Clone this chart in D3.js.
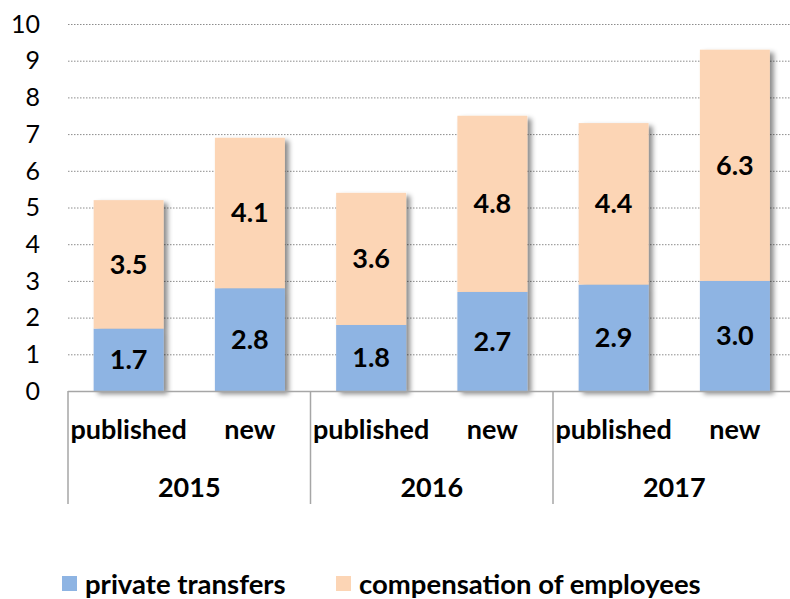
<!DOCTYPE html>
<html><head><meta charset="utf-8">
<script src="https://cdn.jsdelivr.net/npm/d3@7"></script>
<style>body{margin:0;background:#fff;} svg{display:block;font-family:Lato, "Open Sans", sans-serif;}</style>
</head><body>
<svg id="c" width="790" height="599"></svg>
<script>
const years = ["2015","2016","2017"];
const versions = ["published","new"];
const privateTransfers = [1.7, 2.8, 1.8, 2.7, 2.9, 3.0];
const compensation = [3.5, 4.1, 3.6, 4.8, 4.4, 6.3];
const yTicks = [0,1,2,3,4,5,6,7,8,9,10];
const seriesNames = ["private transfers","compensation of employees"];
const colors = ["#8EB4E3","#FCD5B5"];

const svg = d3.select("#c");
const left = 68, right = 795.5, y0 = 391, yTop = 24;
const y = d3.scaleLinear().domain([0,10]).range([y0, yTop]);
const xOuter = d3.scaleBand().domain(years).range([left, right]).padding(0);
const xInner = d3.scaleBand().domain(versions).range([0, xOuter.bandwidth()]).paddingInner(0.423).paddingOuter(0.2115);

const defs = svg.append("defs");
const f = defs.append("filter").attr("id","sh").attr("x","-20%").attr("y","-20%").attr("width","150%").attr("height","150%");
f.append("feDropShadow").attr("dx",4).attr("dy",3).attr("stdDeviation",2.5).attr("flood-color","#000").attr("flood-opacity",0.45);

// gridlines
svg.append("g").selectAll("line").data(yTicks.filter(d=>d>0)).join("line")
  .attr("x1", left).attr("x2", 790).attr("y1", d=>y(d)+0.5).attr("y2", d=>y(d)+0.5)
  .attr("stroke","#8c8c8c").attr("stroke-width",1).attr("stroke-dasharray","1.5,1.5");

// y tick labels
svg.append("g").selectAll("text").data(yTicks).join("text")
  .attr("x", 40).attr("y", d=>y(d)).attr("dy","0.35em").attr("text-anchor","end")
  .attr("font-size", 25).attr("fill","#000").text(d=>d);

// data rows
const rows = [];
years.forEach((yr,i)=>versions.forEach((v,j)=>{
  const k = i*2+j;
  rows.push({year:yr, version:v, a:privateTransfers[k], b:compensation[k]});
}));

const bars = svg.append("g").selectAll("g").data(rows).join("g")
  .attr("filter","url(#sh)")
  .attr("transform", d=>`translate(${xOuter(d.year)+xInner(d.version)},0)`);
bars.append("rect").attr("x",0).attr("width", xInner.bandwidth())
  .attr("y", d=>y(d.a)).attr("height", d=>y(0)-y(d.a)).attr("fill", colors[0]);
bars.append("rect").attr("x",0).attr("width", xInner.bandwidth())
  .attr("y", d=>y(d.a+d.b)).attr("height", d=>y(d.a)-y(d.a+d.b)).attr("fill", colors[1]);

// data labels
const lab = svg.append("g").selectAll("g").data(rows).join("g")
  .attr("transform", d=>`translate(${xOuter(d.year)+xInner(d.version)+xInner.bandwidth()/2},0)`);
lab.append("text").attr("y", d=>y(d.a/2)).attr("dy","0.35em").attr("text-anchor","middle")
  .attr("font-size",27).attr("font-weight","bold").text(d=>d.a.toFixed(1));
lab.append("text").attr("y", d=>y(d.a+d.b/2)).attr("dy","0.35em").attr("text-anchor","middle")
  .attr("font-size",27).attr("font-weight","bold").text(d=>d.b.toFixed(1));

// axis line
svg.append("line").attr("x1",left).attr("x2",790).attr("y1",y0+0.5).attr("y2",y0+0.5)
  .attr("stroke","#a6a6a6").attr("stroke-width",1.5);
// separators
svg.append("g").selectAll("line").data(years).join("line")
  .attr("x1", d=>xOuter(d)).attr("x2", d=>xOuter(d)).attr("y1", y0).attr("y2", 504)
  .attr("stroke","#a6a6a6").attr("stroke-width",1.5);

// category labels
rows.forEach(d=>{
  svg.append("text").attr("x", xOuter(d.year)+xInner(d.version)+xInner.bandwidth()/2)
    .attr("y", 430).attr("dy","0.35em").attr("text-anchor","middle")
    .attr("font-size",27).attr("font-weight","bold").text(d.version);
});
svg.append("g").selectAll("text").data(years).join("text")
  .attr("x", d=>xOuter(d)+xOuter.bandwidth()/2).attr("y",488).attr("dy","0.35em")
  .attr("text-anchor","middle").attr("font-size",27).attr("font-weight","bold").text(d=>d);

// legend
const legX = [62, 336];
const lg = svg.append("g").selectAll("g").data(seriesNames).join("g")
  .attr("transform",(d,i)=>`translate(${legX[i]},584)`);
lg.append("rect").attr("x",0).attr("y",-8).attr("width",15).attr("height",15).attr("fill",(d,i)=>colors[i]);
lg.append("text").attr("x",23).attr("y",0).attr("dy","0.35em").attr("font-size",27.5).attr("font-weight","bold").text(d=>d);
</script>
</body></html>
